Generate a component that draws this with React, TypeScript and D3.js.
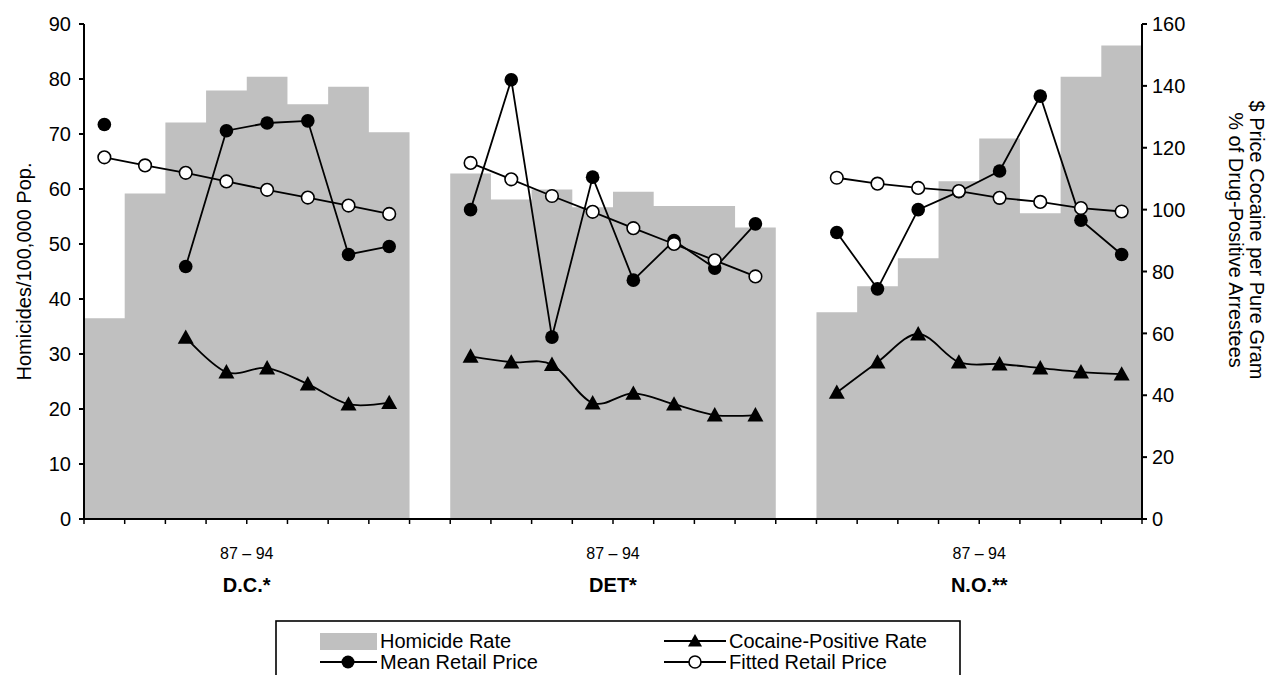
import React from "react";
import * as d3 from "d3";

// ---- Data ----
const cities = ["D.C.*", "DET*", "N.O.**"];
const periodLabel = "87 – 94";
const leftTicks = [0, 10, 20, 30, 40, 50, 60, 70, 80, 90];
const rightTicks = [0, 20, 40, 60, 80, 100, 120, 140, 160];

// Homicides per 100,000 population (left axis)
const homicideDC = [36.5, 59.2, 72.1, 77.9, 80.4, 75.4, 78.6, 70.3];
const homicideDET = [62.8, 58.1, 59.9, 56.7, 59.5, 56.9, 56.9, 53.0];
const homicideNO = [37.6, 42.3, 47.4, 61.4, 69.2, 55.6, 80.4, 86.1];

// Mean retail price, $ per pure gram (right axis)
const priceDC = [127.5, null, 81.6, 125.5, 128.0, 128.7, 85.5, 88.1];
const priceDET = [100.0, 142.0, 58.8, 110.5, 77.2, 90.0, 81.1, 95.4];
const priceNO = [92.6, 74.4, 100.0, 105.8, 112.5, 136.7, 96.6, 85.5];

// Fitted retail price (right axis)
const fittedDC = [116.9, 114.3, 111.9, 109.1, 106.4, 103.9, 101.3, 98.6];
const fittedDET = [115.1, 109.8, 104.4, 99.3, 94.0, 88.9, 83.6, 78.4];
const fittedNO = [110.3, 108.4, 107.0, 106.0, 103.8, 102.5, 100.5, 99.4];

// Cocaine-positive rate, % of drug-positive arrestees (right axis)
const cocaineDC = [null, null, 58.7, 47.5, 48.8, 43.6, 37.1, 37.6];
const cocaineDET = [52.6, 50.7, 49.9, 37.5, 40.6, 37.1, 33.6, 33.6];
const cocaineNO = [40.9, 50.7, 59.8, 50.7, 50.1, 48.8, 47.5, 46.8];

const homicide = [homicideDC, homicideDET, homicideNO];
const price = [priceDC, priceDET, priceNO];
const fitted = [fittedDC, fittedDET, fittedNO];
const cocaine = [cocaineDC, cocaineDET, cocaineNO];

// ---- Layout ----
const W = 1274;
const H = 675;
const M = { left: 84, right: 1142, top: 24, bottom: 519 };
const YEARS = 8;
const GAP = 1;
const nCats = cities.length * YEARS + (cities.length - 1) * GAP;
const catIndex = (c: number, i: number) => c * (YEARS + GAP) + i;

const FONT = "Liberation Sans, Arial, Helvetica, sans-serif";
const GRAY = "#C0C0C0";

type Pt = { x: number; v: number | null };

export default function App() {
  const x = d3
    .scaleBand<number>()
    .domain(d3.range(nCats))
    .range([M.left, M.right])
    .paddingInner(0)
    .paddingOuter(0);
  const yL = d3.scaleLinear().domain([0, 90]).range([M.bottom, M.top]);
  const yR = d3.scaleLinear().domain([0, 160]).range([M.bottom, M.top]);
  const bw = x.bandwidth();
  const cx = (k: number) => (x(k) as number) + bw / 2;

  const straight = d3
    .line<Pt>()
    .defined((d) => d.v != null)
    .x((d) => d.x)
    .y((d) => yR(d.v as number));
  const smooth = d3
    .line<Pt>()
    .defined((d) => d.v != null)
    .x((d) => d.x)
    .y((d) => yR(d.v as number))
    .curve(d3.curveCardinal.tension(0));

  // homicide bars drawn as one stepped area per city (no seams between bars)
  const barArea = d3
    .area<{ x: number; v: number }>()
    .x((d) => d.x)
    .y0(yL(0))
    .y1((d) => yL(d.v))
    .curve(d3.curveStepAfter);
  const barPts = (arr: number[], c: number) => {
    const p = arr.map((v, i) => ({ x: x(catIndex(c, i)) as number, v }));
    p.push({ x: (x(catIndex(c, arr.length - 1)) as number) + bw, v: arr[arr.length - 1] });
    return p;
  };

  const pts = (arr: (number | null)[], c: number): Pt[] =>
    arr.map((v, i) => ({ x: cx(catIndex(c, i)), v }));

  const tri = (px: number, py: number, s = 8) =>
    `M${px},${py - s} L${px + s},${py + s * 0.8} L${px - s},${py + s * 0.8} Z`;

  const xTicks = d3.range(nCats + 1).map((k) => M.left + k * bw);

  return (
    <div style={{ position: "absolute", left: 0, top: 0 }}>
      <svg width={W} height={H} style={{ display: "block", background: "#fff" }} fontFamily={FONT}>
        {/* bars */}
        {homicide.map((arr, c) => (
          <path key={`b${c}`} d={barArea(barPts(arr, c)) || ""} fill={GRAY} />
        ))}

        {/* cocaine-positive (smoothed) */}
        {cocaine.map((arr, c) => (
          <g key={`coc${c}`}>
            <path d={smooth(pts(arr, c)) || ""} fill="none" stroke="#000" strokeWidth={1.8} />
            {pts(arr, c)
              .filter((p) => p.v != null)
              .map((p, i) => (
                <path key={i} d={tri(p.x, yR(p.v as number))} fill="#000" />
              ))}
          </g>
        ))}

        {/* mean retail price */}
        {price.map((arr, c) => (
          <g key={`pr${c}`}>
            <path d={straight(pts(arr, c)) || ""} fill="none" stroke="#000" strokeWidth={1.8} />
            {pts(arr, c)
              .filter((p) => p.v != null)
              .map((p, i) => (
                <circle key={i} cx={p.x} cy={yR(p.v as number)} r={6.8} fill="#000" />
              ))}
          </g>
        ))}

        {/* fitted retail price */}
        {fitted.map((arr, c) => (
          <g key={`ft${c}`}>
            <path d={straight(pts(arr, c)) || ""} fill="none" stroke="#000" strokeWidth={1.8} />
            {pts(arr, c).map((p, i) => (
              <circle
                key={i}
                cx={p.x}
                cy={yR(p.v as number)}
                r={6.3}
                fill="#fff"
                stroke="#000"
                strokeWidth={1.6}
              />
            ))}
          </g>
        ))}

        {/* left axis */}
        <line x1={M.left} x2={M.left} y1={M.top} y2={M.bottom} stroke="#000" strokeWidth={2} />
        {leftTicks.map((t) => (
          <g key={`lt${t}`}>
            <line x1={M.left - 5} x2={M.left} y1={yL(t)} y2={yL(t)} stroke="#000" strokeWidth={2} />
            <text x={M.left - 13} y={yL(t)} dy="0.36em" textAnchor="end" fontSize={20}>
              {t}
            </text>
          </g>
        ))}

        {/* right axis */}
        <line x1={M.right} x2={M.right} y1={M.top} y2={M.bottom} stroke="#000" strokeWidth={2} />
        {rightTicks.map((t) => (
          <g key={`rt${t}`}>
            <line x1={M.right} x2={M.right + 5} y1={yR(t)} y2={yR(t)} stroke="#000" strokeWidth={2} />
            <text x={M.right + 10} y={yR(t)} dy="0.36em" textAnchor="start" fontSize={20}>
              {t}
            </text>
          </g>
        ))}

        {/* x axis */}
        <line x1={M.left - 5} x2={M.right} y1={M.bottom} y2={M.bottom} stroke="#000" strokeWidth={2} />
        {xTicks.map((tx, k) => (
          <line key={`xt${k}`} x1={tx} x2={tx} y1={M.bottom} y2={M.bottom + 5} stroke="#000" strokeWidth={1.5} />
        ))}
        {cities.map((name, c) => {
          const mid = (x(catIndex(c, 0)) as number) + (YEARS * bw) / 2;
          return (
            <g key={`city${c}`}>
              <text x={mid} y={553} dy="0.36em" textAnchor="middle" fontSize={16}>
                {periodLabel}
              </text>
              <text x={mid} y={585} dy="0.36em" textAnchor="middle" fontSize={20} fontWeight="bold">
                {name}
              </text>
            </g>
          );
        })}

        {/* axis titles */}
        <text
          transform={`translate(24,${(M.top + M.bottom) / 2}) rotate(-90)`}
          textAnchor="middle"
          dy="0.36em"
          fontSize={20}
        >
          Homicides/100,000 Pop.
        </text>
        <text
          transform={`translate(1257,240) rotate(90)`}
          textAnchor="middle"
          dy="0.36em"
          fontSize={20}
        >
          $ Price Cocaine per Pure Gram
        </text>
        <text
          transform={`translate(1236,240) rotate(90)`}
          textAnchor="middle"
          dy="0.36em"
          fontSize={20}
        >
          % of Drug-Positive Arrestees
        </text>

        {/* legend */}
        <rect x={276} y={621} width={684} height={90} fill="#fff" stroke="#000" strokeWidth={1.6} />
        <rect x={320} y={633} width={57} height={17} fill={GRAY} />
        <text x={380} y={641} dy="0.36em" fontSize={20}>Homicide Rate</text>
        <line x1={664} x2={726} y1={641} y2={641} stroke="#000" strokeWidth={1.8} />
        <path d={tri(695, 641, 7)} fill="#000" />
        <text x={729} y={641} dy="0.36em" fontSize={20}>Cocaine-Positive Rate</text>
        <line x1={320} x2={377} y1={662} y2={662} stroke="#000" strokeWidth={1.8} />
        <circle cx={348} cy={662} r={6.5} fill="#000" />
        <text x={380} y={662} dy="0.36em" fontSize={20}>Mean Retail Price</text>
        <line x1={664} x2={726} y1={662} y2={662} stroke="#000" strokeWidth={1.8} />
        <circle cx={695} cy={662} r={6} fill="#fff" stroke="#000" strokeWidth={1.6} />
        <text x={729} y={662} dy="0.36em" fontSize={20}>Fitted Retail Price</text>
      </svg>
    </div>
  );
}
